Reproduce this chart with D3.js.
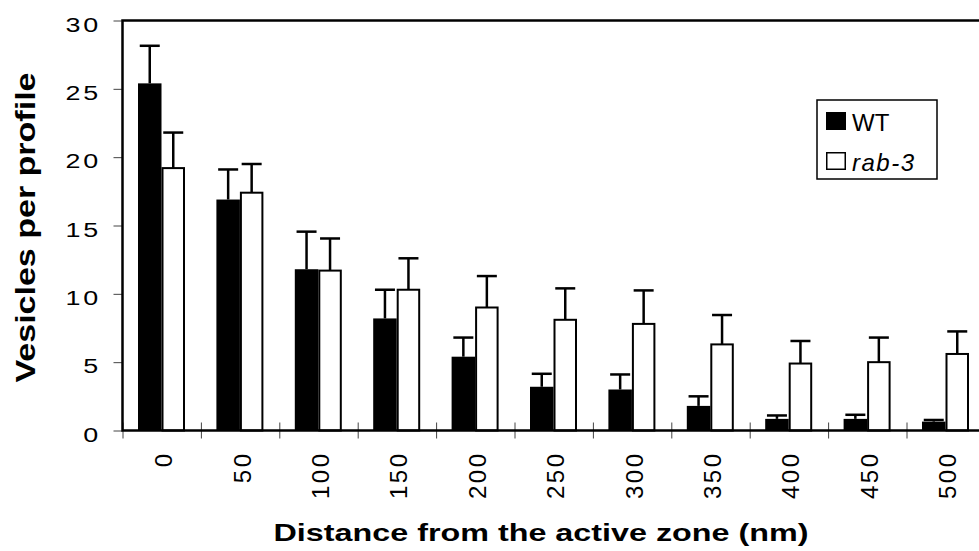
<!DOCTYPE html>
<html>
<head>
<meta charset="utf-8">
<script src="https://cdn.jsdelivr.net/npm/d3@7"></script>
<style>
    body { margin: 0; background: #fff; }
    svg { display: block; font-family: "Liberation Sans", Arial, Helvetica, sans-serif; }
</style>
</head>
<body>
<svg></svg>
<script>
const categories = ["0", "50", "100", "150", "200", "250", "300", "350", "400", "450", "500"];
const series = ["WT", "rab-3"];
const wtValues = [25.4, 16.9, 11.8, 8.2, 5.4, 3.2, 3.0, 1.8, 0.85, 0.85, 0.65];
const wtErrors = [2.75, 2.2, 2.75, 2.1, 1.4, 0.95, 1.1, 0.7, 0.25, 0.3, 0.12];
const rabValues = [19.2, 17.4, 11.7, 10.3, 9.0, 8.1, 7.8, 6.3, 4.9, 5.0, 5.6];
const rabErrors = [2.6, 2.1, 2.35, 2.3, 2.3, 2.3, 2.45, 2.15, 1.65, 1.8, 1.65];
const yTicks = [0, 5, 10, 15, 20, 25, 30];

const svg_width = 979;
const svg_height = 551;
const plotLeft = 122.5, plotTop = 20.5, plotBottom = 430.5, band = 78.4;
const plotRight = plotLeft + band * categories.length;

const svg = d3.select("svg")
    .attr("width", svg_width)
    .attr("height", svg_height);

const data = categories.map((c, i) => ({
    cat: c,
    bars: [
        {key: "WT", value: wtValues[i], err: wtErrors[i]},
        {key: "rab-3", value: rabValues[i], err: rabErrors[i]}
    ]
}));

const x0 = d3.scaleBand()
    .domain(categories)
    .range([plotLeft, plotRight])
    .padding(0);

const x1 = d3.scaleBand()
    .domain(series)
    .range([15.5, 62.5]);

const y = d3.scaleLinear()
    .domain([0, 30])
    .range([plotBottom, plotTop]);

// y axis
const yAxis = svg.append("g")
    .attr("transform", `translate(${plotLeft}, 0)`)
    .call(d3.axisLeft(y).tickValues(yTicks).tickSize(9));
yAxis.select(".domain").remove();
yAxis.selectAll("line").attr("stroke", "#444").attr("stroke-width", 1);
yAxis.selectAll("text")
    .attr("x", 0)
    .attr("dy", null)
    .attr("y", 0)
    .attr("transform", "translate(-21.5, 10.5) scale(1.38, 1)")
    .style("font-size", "19.5px")
    .style("letter-spacing", "2px")
    .attr("fill", "#000");

// boundary ticks on x axis
const xb = d3.scaleLinear().domain([0, categories.length]).range([plotLeft, plotRight]);
const xTickAxis = svg.append("g")
    .attr("transform", `translate(0, ${plotBottom})`)
    .call(d3.axisBottom(xb).tickValues(d3.range(0, categories.length + 1)).tickSize(8).tickFormat(""));
xTickAxis.select(".domain").remove();
xTickAxis.selectAll("line").attr("y1", -8).attr("stroke", "#444").attr("stroke-width", 1);

// category labels
const xAxis = svg.append("g")
    .attr("transform", `translate(0, ${plotBottom})`)
    .call(d3.axisBottom(x0).tickSize(0));
xAxis.select(".domain").remove();
xAxis.selectAll("text")
    .attr("x", 0)
    .attr("y", 0)
    .attr("dy", "0.35em")
    .attr("text-anchor", "end")
    .attr("transform", "translate(2, 21) rotate(-90)")
    .style("font-size", "24px")
    .style("letter-spacing", "2.5px")
    .attr("fill", "#000");

// bars
const groups = svg.append("g").selectAll("g")
    .data(data)
    .enter()
    .append("g")
    .attr("transform", d => `translate(${x0(d.cat)}, 0)`);

groups.selectAll("rect")
    .data(d => d.bars)
    .enter()
    .append("rect")
    .attr("x", d => x1(d.key) + (d.key === "WT" ? 0 : 1))
    .attr("width", d => x1.bandwidth() - (d.key === "WT" ? 0 : 2))
    .attr("y", d => y(d.value))
    .attr("height", d => y(0) - y(d.value))
    .attr("fill", d => d.key === "WT" ? "#000" : "#fff")
    .attr("stroke", d => d.key === "WT" ? "none" : "#000")
    .attr("stroke-width", 2);

// error bars
const errs = groups.selectAll("g.err")
    .data(d => d.bars.filter(b => b.err > 0))
    .enter()
    .append("g")
    .attr("class", "err")
    .attr("stroke", "#000")
    .attr("stroke-width", 2.5);

errs.append("line")
    .attr("x1", d => x1(d.key) + x1.bandwidth() / 2)
    .attr("x2", d => x1(d.key) + x1.bandwidth() / 2)
    .attr("y1", d => y(d.value))
    .attr("y2", d => y(d.value + d.err));

errs.append("line")
    .attr("x1", d => x1(d.key) + x1.bandwidth() / 2 - 10)
    .attr("x2", d => x1(d.key) + x1.bandwidth() / 2 + 10)
    .attr("y1", d => y(d.value + d.err))
    .attr("y2", d => y(d.value + d.err));

// frame: left, top and bottom lines
svg.append("path")
    .attr("d", `M${plotRight},${plotTop} H${plotLeft} V${plotBottom} H${plotRight}`)
    .attr("fill", "none")
    .attr("stroke", "#000")
    .attr("stroke-width", 2.5);

// legend
const legend = svg.append("g");
legend.append("rect")
    .attr("x", 817).attr("y", 100)
    .attr("width", 120).attr("height", 79)
    .attr("fill", "#fff")
    .attr("stroke", "#000")
    .attr("stroke-width", 1.5);

const legItems = legend.selectAll("g.item")
    .data(series)
    .enter()
    .append("g")
    .attr("class", "item")
    .attr("transform", (d, i) => `translate(826, ${112 + i * 40})`);

legItems.append("rect")
    .attr("x", d => d === "WT" ? 0 : 0.75)
    .attr("y", d => d === "WT" ? 0 : 0.75)
    .attr("width", d => d === "WT" ? 20 : 18.5)
    .attr("height", d => d === "WT" ? 18 : 16.5)
    .attr("fill", d => d === "WT" ? "#000" : "#fff")
    .attr("stroke", "#000")
    .attr("stroke-width", d => d === "WT" ? 0 : 1.5);

legItems.append("text")
    .attr("x", 26)
    .attr("y", 18.5)
    .style("font-size", "24px")
    .style("font-style", d => d === "WT" ? "normal" : "italic")
    .style("letter-spacing", d => d === "WT" ? "0px" : "1.5px")
    .text(d => d);

// axis titles
svg.append("text")
    .attr("transform", `translate(35, ${(plotTop + plotBottom) / 2 + 2}) rotate(-90)`)
    .attr("text-anchor", "middle")
    .attr("textLength", 310)
    .attr("lengthAdjust", "spacingAndGlyphs")
    .style("font-size", "27px")
    .style("font-weight", "bold")
    .text("Vesicles per profile");

svg.append("text")
    .attr("x", 541)
    .attr("y", 541)
    .attr("text-anchor", "middle")
    .attr("textLength", 535)
    .attr("lengthAdjust", "spacingAndGlyphs")
    .style("font-size", "24px")
    .style("font-weight", "bold")
    .text("Distance from the active zone (nm)");
</script>
</body>
</html>
